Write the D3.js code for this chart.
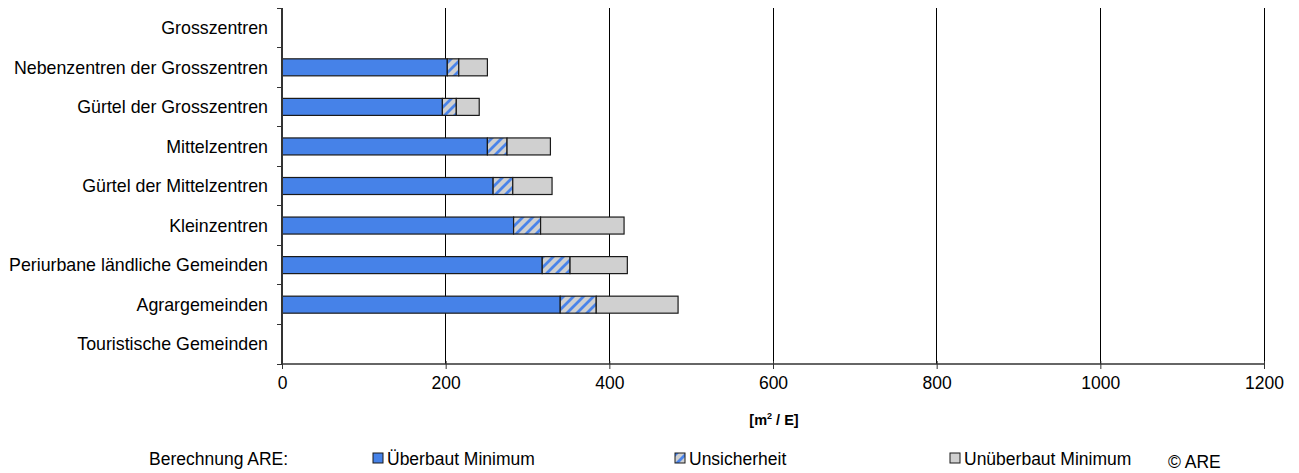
<!DOCTYPE html>
<html><head><meta charset="utf-8">
<script src="https://cdn.jsdelivr.net/npm/d3@7"></script>
<style>
html,body{margin:0;padding:0;background:#fff;}
svg text{font-family:"Liberation Sans",Arial,sans-serif;fill:#000;}
</style></head>
<body>
<svg id="chart" width="1299" height="473"></svg>
<script>
const categories = ["Grosszentren","Nebenzentren der Grosszentren","Gürtel der Grosszentren","Mittelzentren","Gürtel der Mittelzentren","Kleinzentren","Periurbane ländliche Gemeinden","Agrargemeinden","Touristische Gemeinden"];
const ueberbautMin   = [null, 202, 196, 251, 258, 283, 318, 340, null];
const unsicherheit   = [null, 14, 17, 24, 24, 33, 34, 44, null];
const unueberbautMin = [null, 35, 28, 53, 48, 102, 70, 100, null];
const xTicks = [0, 200, 400, 600, 800, 1000, 1200];
const seriesNames = ["Überbaut Minimum", "Unsicherheit", "Unüberbaut Minimum"];

(function(){
const FS = 17.5;
const svg = d3.select("#chart");
const defs = svg.append("defs");
const pat = defs.append("pattern").attr("id","hatch").attr("patternUnits","userSpaceOnUse")
  .attr("width",10).attr("height",10);
pat.append("rect").attr("width",10).attr("height",10).attr("fill","#d0d0d0");
pat.append("path").attr("d","M-2,12 L12,-2 M-2,2 L2,-2 M8,12 L12,8").attr("stroke","#4a84ea").attr("stroke-width",2.8);
const fills = ["#4682e8","url(#hatch)","#d0d0d0"];

const pl = 282, pr = 1264, pt = 8, pb = 364;
const x = d3.scaleLinear().domain([0,1200]).range([pl,pr]);
const y = d3.scaleBand().domain(categories).range([pt,pb]).paddingInner(0.57).paddingOuter(0.285);
const yb = d3.scaleBand().domain(categories).range([pt,pb]);

// gridlines
svg.append("g").selectAll("line").data(xTicks.filter(d=>d>0)).join("line")
  .attr("x1",d=>x(d)).attr("x2",d=>x(d)).attr("y1",pt).attr("y2",pb)
  .attr("stroke","#000").attr("stroke-width",1).attr("shape-rendering","crispEdges");

// stacked bars
const rows = categories.map((c,i)=>({cat:c, vals:[ueberbautMin[i],unsicherheit[i],unueberbautMin[i]]}));
const g = svg.append("g");
rows.forEach(r=>{
  if (r.vals[0]==null) return;
  let acc = 0;
  r.vals.forEach((v,k)=>{
    g.append("rect").attr("x",x(acc)).attr("width",x(acc+v)-x(acc))
      .attr("y",y(r.cat)).attr("height",y.bandwidth())
      .attr("fill",fills[k]).attr("stroke","#1a1a1a").attr("stroke-width",1.2);
    acc += v;
  });
});

// y axis
svg.append("line").attr("x1",pl).attr("x2",pl).attr("y1",pt).attr("y2",pb)
  .attr("stroke","#333").attr("stroke-width",1.3).attr("shape-rendering","crispEdges");
const bounds = categories.map(c=>yb(c)).concat([pb]);
svg.append("g").selectAll("line").data(bounds).join("line")
  .attr("x1",pl-5).attr("x2",pl).attr("y1",d=>d).attr("y2",d=>d)
  .attr("stroke","#333").attr("stroke-width",1).attr("shape-rendering","crispEdges");
svg.append("g").selectAll("text").data(categories).join("text")
  .attr("x",268).attr("y",d=>yb(d)+yb.bandwidth()/2).attr("dy","0.35em")
  .attr("text-anchor","end").attr("font-size",17.8).text(d=>d);

// x axis
const xAxis = d3.axisBottom(x).tickValues(xTicks).tickSize(5).tickPadding(8).tickFormat(d3.format("d"));
const ax = svg.append("g").attr("transform",`translate(0,${pb})`).call(xAxis);
ax.select(".domain").attr("stroke","#333").attr("stroke-width",1.3).attr("d",`M${pl},0H${pr}`);
ax.selectAll(".tick line").attr("stroke","#333").attr("y1",-3);
ax.selectAll(".tick text").attr("font-size",FS).attr("font-family","Liberation Sans, Arial, sans-serif").attr("fill","#000");

// axis title
const t = svg.append("text").attr("x",774).attr("y",425).attr("text-anchor","middle")
  .attr("font-size",14.5).attr("font-weight","bold");
t.append("tspan").text("[m");
t.append("tspan").attr("dy",-6).attr("font-size",9).text("2");
t.append("tspan").attr("dy",6).text(" / E]");

// legend
svg.append("text").attr("x",149).attr("y",465).attr("font-size",FS).text("Berechnung ARE:");
const legX = [373, 675, 950];
seriesNames.forEach((n,k)=>{
  svg.append("rect").attr("x",legX[k]).attr("y",453).attr("width",10).attr("height",10)
    .attr("fill",fills[k]).attr("stroke","#1a1a1a").attr("stroke-width",1);
  svg.append("text").attr("x",legX[k]+14).attr("y",465).attr("font-size",FS).text(n);
});
svg.append("text").attr("x",1168).attr("y",468).attr("font-size",FS).text("© ARE");
})();
</script>
</body></html>
